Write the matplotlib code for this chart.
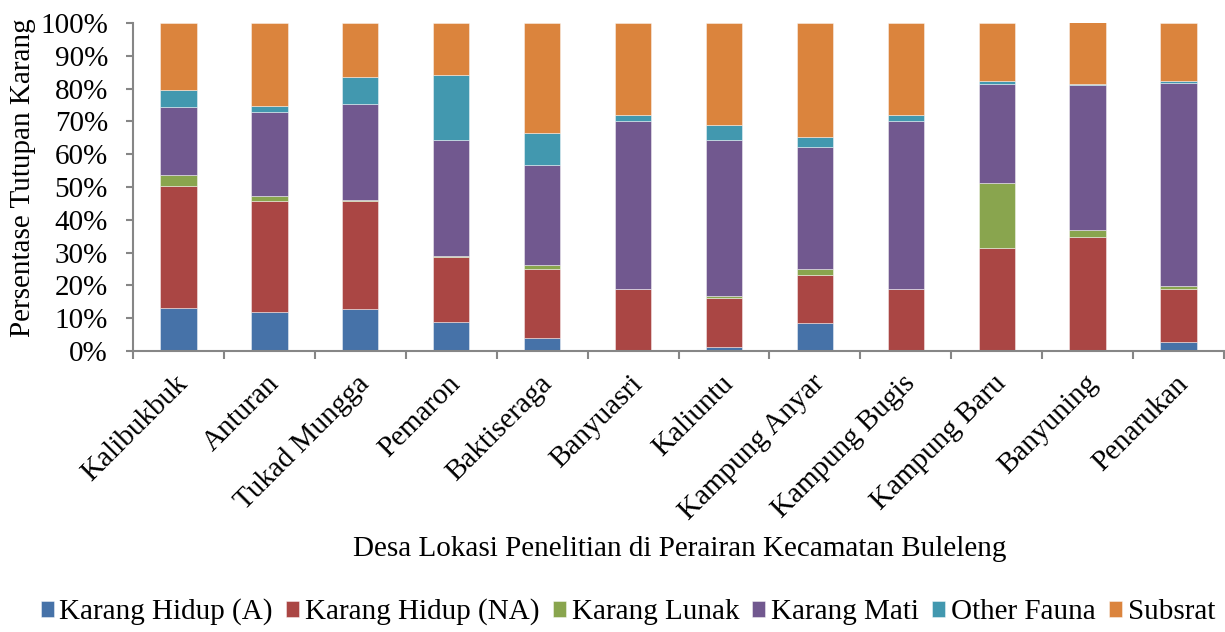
import matplotlib
matplotlib.use("Agg")
import matplotlib.pyplot as plt
from matplotlib.ticker import PercentFormatter
import numpy as np

categories = ["Kalibukbuk", "Anturan", "Tukad Mungga", "Pemaron", "Baktiseraga",
              "Banyuasri", "Kaliuntu", "Kampung Anyar", "Kampung Bugis",
              "Kampung Baru", "Banyuning", "Penarukan"]
series_names = ["Karang Hidup (A)", "Karang Hidup (NA)", "Karang Lunak",
                "Karang Mati", "Other Fauna", "Subsrat"]
karang_hidup_a = [13.2, 12.0, 12.8, 8.9, 4.1, 0.0, 1.1, 8.6, 0.0, 0.0, 0.0, 2.8]
karang_hidup_na = [37.2, 33.6, 32.8, 19.9, 20.9, 18.9, 15.1, 14.6, 18.9, 31.5, 34.8, 16.1]
karang_lunak = [3.4, 1.8, 0.4, 0.1, 1.3, 0.0, 0.6, 1.8, 0.0, 19.7, 2.0, 0.8]
karang_mati = [20.7, 25.5, 29.4, 35.3, 30.3, 51.3, 47.6, 37.2, 51.3, 30.3, 44.3, 62.1]
other_fauna = [5.2, 1.9, 8.2, 19.8, 9.9, 1.6, 4.4, 2.9, 1.6, 0.8, 0.2, 0.5]
subsrat = [20.3, 25.2, 16.4, 16.1, 33.5, 28.2, 31.2, 34.9, 28.2, 17.7, 18.9, 17.7]

colors = ["#4672A8", "#AA4644", "#89A54E", "#71588F", "#4298AF", "#DB843D"]

plt.rcParams['font.family'] = ['Liberation Serif', 'DejaVu Serif']
FS = 21

fig = plt.figure(figsize=(12.25, 6.32), dpi=100)
ax = fig.add_axes([133 / 1225, 1 - 351 / 632, 1 - 133 / 1225 - 0.0008, 328 / 632])

data = [karang_hidup_a, karang_hidup_na, karang_lunak, karang_mati, other_fauna, subsrat]
x = np.arange(len(categories))
bottom = np.zeros(len(categories))
for name, vals, c in zip(series_names, data, colors):
    v = np.array(vals) / 100.0
    ax.bar(x, v, width=0.4, bottom=bottom, color=c, label=name,
           edgecolor=(1, 1, 1, 0.6), linewidth=0.5)
    bottom += v

ax.set_xlim(-0.5, len(categories) - 0.5)
ax.set_ylim(0, 1)
ax.set_yticks(np.arange(0, 1.01, 0.1))
ax.yaxis.set_major_formatter(PercentFormatter(1.0, decimals=0))

ax.set_xticks(x - 0.04)
ax.set_xticklabels(categories, rotation=45, ha='right', va='top',
                   rotation_mode='anchor', fontsize=FS)
ax.set_xticks(np.arange(-0.5, len(categories), 1), minor=True)
ax.tick_params(axis='x', which='major', length=0, pad=14)
ax.tick_params(axis='x', which='minor', length=6, width=1.5, color='#868686', direction='out')
ax.tick_params(axis='y', length=5, width=1.5, color='#868686', labelsize=FS, pad=13)

for s in ['top', 'right']:
    ax.spines[s].set_visible(False)
for s in ['left', 'bottom']:
    ax.spines[s].set_color('#868686')
    ax.spines[s].set_linewidth(1.5)

fig.text(23 / 1225, 1 - 178 / 632, "Persentase Tutupan Karang", fontsize=FS,
         rotation=90, ha='center', va='center')
fig.text(680 / 1225, 1 - 549 / 632, "Desa Lokasi Penelitian di Perairan Kecamatan Buleleng",
         fontsize=FS, ha='center', va='center')

leg = fig.legend(loc='center', bbox_to_anchor=(628 / 1225, 1 - 612 / 632), ncol=6,
                 frameon=False, fontsize=FS, handlelength=0.45, handleheight=0.45,
                 handletextpad=0.2, columnspacing=0.45, borderpad=0, borderaxespad=0)

fig.savefig("out.png", dpi=100)
